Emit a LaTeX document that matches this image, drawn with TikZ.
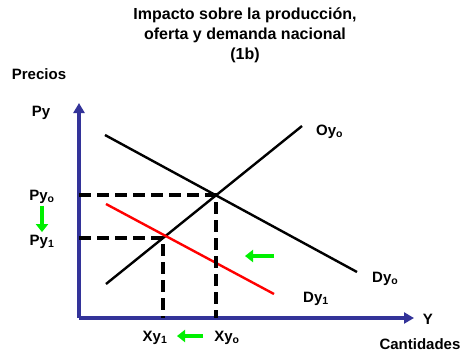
\documentclass[tikz,border=0pt]{standalone}
\usepackage{fontspec}
\setmainfont{Liberation Sans}
\usetikzlibrary{arrows.meta}
\definecolor{axisblue}{RGB}{51,51,153}
\definecolor{shiftgreen}{RGB}{0,240,0}

\begin{document}
\begin{tikzpicture}[
    x=1pt, y=-1pt,
    every node/.style={font=\bfseries\fontsize{15}{17}\selectfont, inner sep=1pt},
    axis/.style={draw=axisblue, line width=4pt, -{Triangle[length=10pt,width=11pt]}},
    curve/.style={draw, line width=2.4pt},
    guide/.style={draw, line width=3.4pt, dash pattern=on 12pt off 6pt},
    movearrow/.style={draw=shiftgreen, line width=4.5pt, -{Triangle[length=8pt,width=12pt]}}
]
    \useasboundingbox (0,0) rectangle (467,354);
    % Title
    \node[align=center, font=\bfseries\fontsize{16}{20}\selectfont] (title) at (245,35) {Impacto sobre la producción,\\oferta y demanda nacional\\(1b)};

    % Axes
    \coordinate (O) at (79,318);
    \coordinate (ytop) at (79,103);
    \coordinate (xend) at (414,318);
    \draw[axis] (O) -- (ytop);
    \draw[axis] (O) -- (xend);
    \node (precios) at (39,74) {Precios};
    \node (py) at (41,113) {Py};
    \node (yl) at (428,319) {Y};
    \node (cant) at (420,344) {Cantidades};

    % Curves
    \coordinate (s1) at (106,284);
    \coordinate (s2) at (302,126);
    \coordinate (d1) at (105,135);
    \coordinate (d2) at (357,272);
    \coordinate (r1) at (106,204);
    \coordinate (r2) at (274,294);
    \draw[curve] (s1) -- (s2);
    \draw[curve] (d1) -- (d2);
    \draw[curve, red] (r1) -- (r2);
    \node[anchor=west] (oy) at (315,132) {Oy\textsubscript{o}};
    \node[anchor=west] (dyo) at (371,279) {Dy\textsubscript{o}};
    \node[anchor=west] (dy1) at (302,299) {Dy\textsubscript{1}};

    % Equilibria
    \coordinate (E0) at (216,195);
    \coordinate (E1) at (163,238);
    \draw[guide] (E0 -| O) -- (E0) -- (E0 |- O);
    \draw[guide] (E1 -| O) -- (E1) -- (E1 |- O);

    % Labels and shifts
    \node (pyo) at (42,197) {Py\textsubscript{o}};
    \node (py1) at (42,242) {Py\textsubscript{1}};
    \node (xy1) at (155,338) {Xy\textsubscript{1}};
    \node (xyo) at (227,338) {Xy\textsubscript{o}};
    \draw[movearrow] ([yshift=-1pt]pyo.south) -- ([yshift=2pt]py1.north);
    \coordinate (x1) at (203,336);
    \coordinate (x2) at (177,336);
    \draw[movearrow] (x1) -- (x2);
    \coordinate (m1) at (274,256);
    \coordinate (m2) at (245,256);
    \draw[movearrow] (m1) -- (m2);
\end{tikzpicture}
\end{document}
